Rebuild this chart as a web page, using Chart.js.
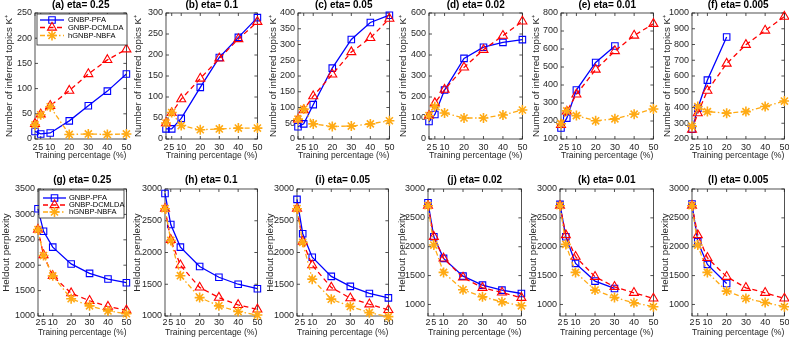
<!DOCTYPE html>
<html>
<head>
<meta charset="utf-8">
<script src="https://cdn.jsdelivr.net/npm/chart.js@4.4.0/dist/chart.umd.min.js"></script>
<style>
  body { margin: 0; background: #fff; width: 789px; height: 339px; overflow: hidden; position: relative; }
  canvas { position: absolute; }
</style>
</head>
<body>
<script>
// training percentage (x axis) and tick labels
const pct = [2, 5, 10, 20, 30, 40, 50];
const pctTicks = [2, 5, 10, 20, 30, 40, 50];
const seriesNames = ['GNBP-PFA', 'GNBP-DCMLDA', 'hGNBP-NBFA'];

// number of inferred topics K+
const pfaA = [15, 10, 12, 36, 66, 95, 129];
const dcmA = [30, 49, 66, 96, 129, 157, 178];
const nbfaA = [28, 48, 64, 9, 10, 9, 10];

const pfaB = [24, 24, 49, 123, 194, 242, 289];
const dcmB = [38, 62, 95, 144, 192, 238, 279];
const nbfaB = [38, 63, 32, 22, 24, 26, 26];

const pfaC = [39, 48, 109, 225, 316, 370, 393];
const dcmC = [62, 92, 136, 205, 276, 321, 382];
const nbfaC = [63, 95, 48, 40, 41, 48, 58];

const pfaD = [83, 117, 233, 384, 437, 460, 473];
const dcmD = [111, 171, 235, 341, 425, 492, 560];
const nbfaD = [111, 154, 124, 100, 100, 114, 138];

const pfaE = [161, 216, 372, 525, 617];
const dcmE = [179, 253, 348, 486, 589, 675, 740];
const nbfaE = [185, 256, 230, 201, 212, 238, 267];

const pfaF = [263, 395, 574, 848];
const dcmF = [259, 364, 507, 679, 798, 889, 977];
const nbfaF = [280, 406, 374, 364, 374, 406, 441];

// heldout perplexity
const pfaG = [3110, 2667, 2356, 2025, 1840, 1728, 1655];
const dcmG = [2700, 2200, 1790, 1450, 1300, 1185, 1112];
const nbfaG = [2700, 2190, 1790, 1340, 1200, 1100, 1046];

const pfaH = [2930, 2440, 2085, 1780, 1610, 1500, 1430];
const dcmH = [2690, 2200, 1800, 1450, 1290, 1175, 1105];
const nbfaH = [2690, 2190, 1635, 1290, 1160, 1070, 1015];

const pfaI = [2836, 2296, 1926, 1624, 1466, 1355, 1286];
const dcmI = [2690, 2170, 1800, 1450, 1280, 1185, 1095];
const nbfaI = [2690, 2160, 1580, 1265, 1150, 1053, 990];

const pfaJ = [2763, 2173, 1798, 1491, 1335, 1249, 1190];
const dcmJ = [2711, 2173, 1798, 1468, 1289, 1208, 1116];
const nbfaJ = [2711, 2029, 1555, 1254, 1133, 1046, 977];

const pfaK = [2734, 2173, 1711, 1405, 1277];
const dcmK = [2711, 2202, 1827, 1480, 1306, 1202, 1104];
const nbfaK = [2711, 2040, 1555, 1249, 1121, 1029, 960];

const pfaL = [2740, 2087, 1694, 1364];
const dcmL = [2711, 2202, 1809, 1480, 1289, 1202, 1104];
const nbfaL = [2711, 2029, 1555, 1231, 1104, 1035, 960];

const BLUE = '#0000ff', RED = '#ff0000', ORANGE = '#ffaa14';
const FONT = '"Liberation Sans", Arial, Helvetica, sans-serif';
Chart.defaults.font.family = FONT;
Chart.defaults.color = '#262626';

const topLabel = 'Number of inferred topics K\u207A';
const botLabel = 'Heldout perplexity';

const panels = [
  { t: '(a) eta= 0.25',  p: pfaA, d: dcmA, n: nbfaA, min: 0,    max: 250,  from: 0,    step: 50,  row: 0, L: 35,  R: 128, ytx: 9,   legend: 'top' },
  { t: '(b) eta= 0.1',   p: pfaB, d: dcmB, n: nbfaB, min: 0,    max: 300,  from: 0,    step: 50,  row: 0, L: 166, R: 259, ytx: 138 },
  { t: '(c) eta= 0.05',  p: pfaC, d: dcmC, n: nbfaC, min: 0,    max: 400,  from: 0,    step: 50,  row: 0, L: 298, R: 391, ytx: 273 },
  { t: '(d) eta= 0.02',  p: pfaD, d: dcmD, n: nbfaD, min: 0,    max: 600,  from: 0,    step: 100, row: 0, L: 429, R: 524, ytx: 403 },
  { t: '(e) eta= 0.01',  p: pfaE, d: dcmE, n: nbfaE, min: 100,  max: 800,  from: 100,  step: 100, row: 0, L: 561, R: 655, ytx: 536 },
  { t: '(f) eta= 0.005', p: pfaF, d: dcmF, n: nbfaF, min: 200,  max: 1000, from: 200,  step: 100, row: 0, L: 692, R: 786, ytx: 667 },
  { t: '(g) eta= 0.25',  p: pfaG, d: dcmG, n: nbfaG, min: 1000, max: 3500, from: 1000, step: 500, row: 1, L: 38,  R: 128, ytx: 6,   legend: 'bottom' },
  { t: '(h) eta= 0.1',   p: pfaH, d: dcmH, n: nbfaH, min: 1000, max: 3000, from: 1000, step: 500, row: 1, L: 165, R: 259, ytx: 137 },
  { t: '(i) eta= 0.05',  p: pfaI, d: dcmI, n: nbfaI, min: 1000, max: 3000, from: 1000, step: 500, row: 1, L: 297, R: 390, ytx: 270 },
  { t: '(j) eta= 0.02',  p: pfaJ, d: dcmJ, n: nbfaJ, min: 800,  max: 3000, from: 1000, step: 500, row: 1, L: 428, R: 523, ytx: 402 },
  { t: '(k) eta= 0.01',  p: pfaK, d: dcmK, n: nbfaK, min: 800,  max: 3000, from: 1000, step: 500, row: 1, L: 560, R: 655, ytx: 533 },
  { t: '(l) eta= 0.005', p: pfaL, d: dcmL, n: nbfaL, min: 800,  max: 3000, from: 1000, step: 500, row: 1, L: 692, R: 786, ytx: 665 }
];

// row geometry: canvas top, canvas height, x-scale height, title padding, tick padding, x-title padding
const rows = [
  { top: 0,   h: 165, xh: 26, tPad: { top: 0, bottom: 3 }, tickPad: 3, xtPad: 4 },
  { top: 173, h: 166, xh: 23, tPad: { top: 2, bottom: 4 }, tickPad: 1, xtPad: 0.6 }
];

const legendGeo = {
  top:    { dx: 2, dy: 1, w: 90, h: 31, rows: [6, 13.5, 21.5], l0: 3, l1: 27, tx: 31 },
  bottom: { dx: 1, dy: 1, w: 85, h: 28, rows: [8, 15, 22], l0: 4, l1: 27, tx: 30 }
};

function series(label, values, color, style, dash, radius, pw, order) {
  return {
    label: label,
    data: values.map((v, i) => ({ x: pct[i], y: v })),
    borderColor: color,
    backgroundColor: 'rgba(0,0,0,0)',
    borderWidth: 1.3,
    borderDash: dash,
    pointStyle: style,
    pointRadius: radius,
    pointBorderColor: color,
    pointBackgroundColor: 'rgba(0,0,0,0)',
    pointBorderWidth: pw,
    tension: 0,
    clip: false,
    order: order
  };
}

// MATLAB style box with inward ticks
const boxPlugin = {
  id: 'box',
  beforeDatasetsDraw(chart) {
    const { ctx, chartArea: a, scales } = chart;
    ctx.save();
    ctx.strokeStyle = '#262626';
    ctx.lineWidth = 0.8;
    ctx.strokeRect(a.left, a.top, a.right - a.left, a.bottom - a.top);
    ctx.beginPath();
    scales.x.ticks.forEach(t => {
      const px = scales.x.getPixelForValue(t.value);
      ctx.moveTo(px, a.bottom); ctx.lineTo(px, a.bottom - 3);
      ctx.moveTo(px, a.top); ctx.lineTo(px, a.top + 3);
    });
    scales.y.ticks.forEach(t => {
      const py = scales.y.getPixelForValue(t.value);
      ctx.moveTo(a.left, py); ctx.lineTo(a.left + 3, py);
      ctx.moveTo(a.right, py); ctx.lineTo(a.right - 3, py);
    });
    ctx.stroke();
    ctx.restore();
  }
};

function legendPlugin(geo) {
  return {
    id: 'boxLegend',
    afterDatasetsDraw(chart) {
      const { ctx, chartArea: a } = chart;
      const x0 = a.left + geo.dx, y0 = a.top + geo.dy;
      ctx.save();
      ctx.fillStyle = '#fff';
      ctx.fillRect(x0, y0, geo.w, geo.h);
      ctx.strokeStyle = '#262626';
      ctx.lineWidth = 0.8;
      ctx.strokeRect(x0, y0, geo.w, geo.h);
      chart.data.datasets.forEach((d, i) => {
        const yy = y0 + geo.rows[i];
        ctx.strokeStyle = d.borderColor;
        ctx.lineWidth = d.borderWidth;
        ctx.setLineDash(d.borderDash || []);
        ctx.beginPath();
        ctx.moveTo(x0 + geo.l0, yy);
        ctx.lineTo(x0 + geo.l1, yy);
        ctx.stroke();
        ctx.setLineDash([]);
        ctx.fillStyle = 'rgba(0,0,0,0)';
        ctx.lineWidth = d.pointBorderWidth;
        Chart.helpers.drawPoint(ctx, { pointStyle: d.pointStyle, radius: d.pointRadius, borderWidth: d.pointBorderWidth, rotation: 0 },
          x0 + (geo.l0 + geo.l1) / 2, yy);
        ctx.fillStyle = '#000';
        ctx.font = '7.5px ' + FONT;
        ctx.textBaseline = 'middle';
        ctx.textAlign = 'left';
        ctx.fillText(d.label, x0 + geo.tx, yy);
      });
      ctx.restore();
    }
  };
}

panels.forEach(pn => {
  const rw = rows[pn.row];
  const left = pn.ytx - 9;
  const yw = pn.L - left;
  const width = pn.R - left + 5;
  const cv = document.createElement('canvas');
  cv.width = width; cv.height = rw.h;
  cv.style.left = left + 'px'; cv.style.top = rw.top + 'px';
  cv.style.width = width + 'px'; cv.style.height = rw.h + 'px';
  document.body.appendChild(cv);

  const yTicks = [];
  for (let v = pn.from; v <= pn.max; v += pn.step) yTicks.push(v);

  const plugins = [boxPlugin];
  if (pn.legend) plugins.push(legendPlugin(legendGeo[pn.legend]));

  new Chart(cv.getContext('2d'), {
    type: 'line',
    data: {
      datasets: [
        series(seriesNames[0], pn.p, BLUE, 'rect', [], 4.6, 1.1, 3),
        series(seriesNames[1], pn.d, RED, 'triangle', [5, 3.5], 5.2, 1.1, 2),
        series(seriesNames[2], pn.n, ORANGE, 'star', [5, 2.5, 1.5, 2.5], 5, 1.6, 1)
      ]
    },
    options: {
      responsive: false,
      animation: false,
      devicePixelRatio: 1,
      layout: { padding: { left: 0, right: 5, top: 0, bottom: 0 } },
      plugins: {
        legend: { display: false },
        tooltip: { enabled: false },
        title: {
          display: true, text: pn.t, color: '#000', fullSize: false,
          font: { size: 10, weight: 'bold', lineHeight: 1 }, padding: rw.tPad
        }
      },
      scales: {
        x: {
          type: 'linear', min: 2, max: 50,
          grid: { display: false, drawTicks: false },
          border: { display: false },
          ticks: { font: { size: 9 }, padding: rw.tickPad, autoSkip: false, maxRotation: 0, minRotation: 0,
                   callback: v => String(v) },
          title: { display: true, text: 'Training percentage (%)', color: '#262626',
                   font: { size: 9 }, padding: { top: 0, bottom: rw.xtPad } },
          afterBuildTicks: s => { s.ticks = pctTicks.map(v => ({ value: v })); },
          afterFit: s => { s.height = rw.xh; s.paddingLeft = 0; s.paddingRight = 0; }
        },
        y: {
          type: 'linear', min: pn.min, max: pn.max,
          grid: { display: false, drawTicks: false },
          border: { display: false },
          ticks: { font: { size: 9 }, padding: 3, callback: v => String(v) },
          title: { display: true, text: pn.row === 0 ? topLabel : botLabel, color: '#262626',
                   font: { size: 9.8, lineHeight: 1.1 }, padding: { top: 3.6, bottom: 0 } },
          afterBuildTicks: s => { s.ticks = yTicks.map(v => ({ value: v })); },
          afterFit: s => { s.width = yw; s.paddingTop = 0; s.paddingBottom = 0; }
        }
      }
    },
    plugins: plugins
  });
});
</script>
</body>
</html>
